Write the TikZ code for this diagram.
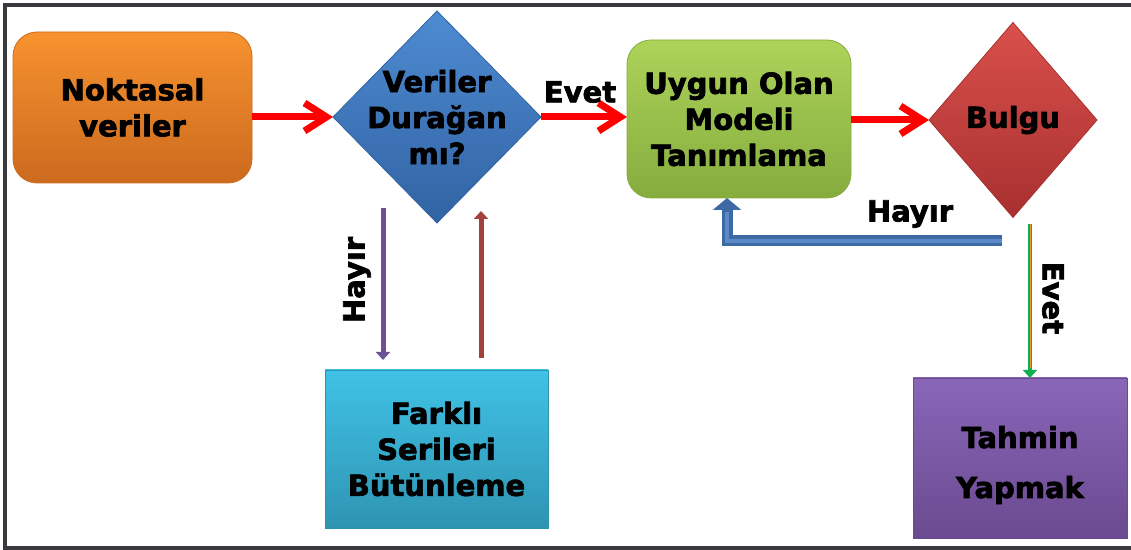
\documentclass[tikz,border=0pt]{standalone}
\usepackage{fontspec}
\setmainfont{DejaVu Sans}[BoldFeatures={FakeBold=2.4}]
\usetikzlibrary{arrows.meta,positioning,calc,shapes.geometric}
\definecolor{trcerceve}{HTML}{3A3A3E}
\definecolor{trturuncu}{HTML}{F7922F}
\definecolor{trturuncukoyu}{HTML}{CC6A1E}
\definecolor{trmavi}{HTML}{4E8BD2}
\definecolor{trmavikoyu}{HTML}{3163A3}
\definecolor{tryesil}{HTML}{ADD35A}
\definecolor{tryesilkoyu}{HTML}{86AC3E}
\definecolor{trkirmizi}{HTML}{D9504B}
\definecolor{trkirmizikoyu}{HTML}{A83030}
\definecolor{trcamgobegi}{HTML}{40C2E6}
\definecolor{trcamgobegikoyu}{HTML}{2E94B2}
\definecolor{trmor}{HTML}{8A66B8}
\definecolor{trmorkoyu}{HTML}{6A4A90}
\definecolor{trok}{HTML}{FF0000}
\definecolor{trokmor}{HTML}{6B5196}
\definecolor{trokkahve}{HTML}{A5413D}
\definecolor{trokmavi}{HTML}{3D6AA5}
\definecolor{trokmaviacik}{HTML}{5B8AC7}
\definecolor{trokyesil}{HTML}{10B050}
\definecolor{trokturuncu}{HTML}{E8962E}

\begin{document}
\begin{tikzpicture}[
  x=0.5pt, y=-0.5pt,
  yazi/.style={font=\bfseries\fontsize{14.5}{18}\selectfont, text=black, align=center},
  kutu/.style 2 args={
    yazi, rectangle, top color=#1, bottom color=#2, draw=#2,
    line width=0.4pt, outer sep=0pt
  },
  karar/.style 2 args={
    diamond, top color=#1, bottom color=#2, draw=#2,
    line width=0.4pt, inner sep=0pt, outer sep=0pt
  },
  okkirmizi/.style={-{Straight Barb[length=11pt,width=14pt]}, trok, line width=3.5pt},
  inceok/.style={-{Triangle[length=4pt,width=7pt]}, line width=2.5pt},
]

  \useasboundingbox (0,0) rectangle (1131,550);

  % Cerceve (sag kenar gorunmuyor)
  \draw[trcerceve, line width=2pt] (1140,5) -- (5,5) -- (5,548) -- (1140,548);

  % Baslangic kutusu
  \node[kutu={trturuncu}{trturuncukoyu}, rounded corners=12pt,
        minimum width=119.5pt, minimum height=75.5pt] (noktasal)
        at (132.5,107.5) {Noktasal\\veriler};

  % Duraganlik karari
  \node[karar={trmavi}{trmavikoyu}, minimum width=104pt, minimum height=106pt,
        label={[yazi]center:Veriler\\Durağan\\mı?}] (duragan) at (437,117) {};

  % Model kutusu
  \node[kutu={tryesil}{tryesilkoyu}, rounded corners=12pt,
        minimum width=112pt, minimum height=79pt] (uygun)
        at (739,119) {Uygun Olan\\Modeli\\Tanımlama};

  % Bulgu karari
  \node[karar={trkirmizi}{trkirmizikoyu}, minimum width=84pt, minimum height=97.5pt,
        label={[yazi]center:Bulgu}] (bulgu) at (1013,120) {};

  % Alt kutular
  \node[kutu={trcamgobegi}{trcamgobegikoyu},
        minimum width=111.5pt, minimum height=79pt] (farkli)
        at (436.5,449) {Farklı\\Serileri\\Bütünleme};
  \node[kutu={trmor}{trmorkoyu},
        minimum width=107pt, minimum height=80pt, text height=40pt, text depth=0pt] (tahmin)
        at (1020,458) {Tahmin\\[7pt]Yapmak};

  % Ana akis oklari
  \draw[okkirmizi] (noktasal.east |- duragan.west) -- (duragan.west);
  \draw[okkirmizi] (duragan.east) -- (duragan.east -| uygun.west);
  \draw[okkirmizi] (uygun.east |- bulgu.west) -- (bulgu.west);
  \node[yazi] (evetust) at (580,92) {Evet};

  % Fark alma dongusu
  \coordinate (hayirbas) at (383,208);
  \coordinate (donusbas) at (481,358);
  \coordinate (donusson) at (481,211);
  \draw[inceok, trokmor, shorten >=5pt] (hayirbas) -- (hayirbas |- farkli.north);
  \draw[inceok, trokkahve] (donusbas) -- (donusson);
  \node[yazi, rotate=90] (hayirsol) at (357,280) {Hayır};

  % Bulgu -> model (Hayir)
  \coordinate (geribas) at (1002,241);
  \coordinate (geriköse) at (727,241);
  \draw[-{Triangle[length=6pt,width=14pt]}, trokmavi, line width=5.5pt]
    (geribas) -- (geriköse) -- (geriköse |- uygun.south);
  \draw[trokmaviacik, line width=2pt, shorten >=7pt]
    (geribas) -- (geriköse) -- (geriköse |- uygun.south);
  \node[yazi] (hayirsag) at (910,214) {Hayır};

  % Bulgu -> tahmin (Evet)
  \coordinate (evetbas) at (1030,224);
  \draw[-{Triangle[length=4pt,width=7pt]}, trokyesil, line width=2pt]
    (evetbas) -- (evetbas |- tahmin.north);
  \draw[trokturuncu, line width=0.5pt, shorten >=5pt]
    (evetbas) -- (evetbas |- tahmin.north);
  \node[yazi, rotate=-90] (evetsag) at (1053,298) {Evet};

\end{tikzpicture}
\end{document}
